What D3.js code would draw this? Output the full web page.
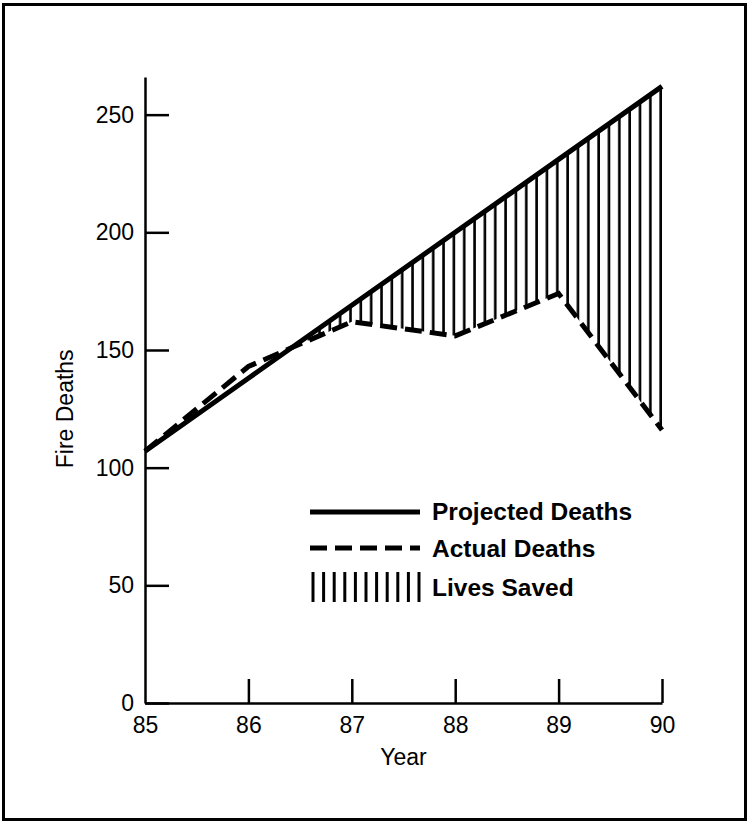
<!DOCTYPE html>
<html>
<head>
<meta charset="utf-8">
<script src="https://cdn.jsdelivr.net/npm/d3@7"></script>
<style>
  body { margin: 0; background: #fff; }
  svg { display: block; font-family: "Liberation Sans", Arial, Helvetica, sans-serif; }
</style>
</head>
<body>
<svg id="chart"></svg>
<script>
// values
var years = [85, 86, 87, 88, 89, 90]
var projected = [107, 138, 169, 200, 231, 262]
var actual = [107, 143, 162, 156, 174, 116]
var yTicks = [0, 50, 100, 150, 200, 250]
var legendItems = ["Projected Deaths", "Actual Deaths", "Lives Saved"]

var width = 749
var height = 824
var margin = ({top: 77, right: 87, bottom: 121, left: 145})

var data = years.map((yr, i) => ({year: yr, proj: projected[i], act: actual[i]}))

var x = d3.scaleLinear()
  .domain([85, 90])
  .range([margin.left, width - margin.right])
var y = d3.scaleLinear()
  .domain([0, 266])
  .range([height - margin.bottom, margin.top])

var svg = d3.select('#chart')
  .attr("width", width)
  .attr("height", height)

// outer frame
svg.append("rect")
  .attr("x", 3.5).attr("y", 4.5)
  .attr("width", width - 7).attr("height", height - 9)
  .attr("fill", "none")
  .attr("stroke", "#000")
  .attr("stroke-width", 3)

// hatch pattern: one vertical stroke every tenth of a year
var step = x(85.1) - x(85)
var defs = svg.append("defs")
var pat = defs.append("pattern")
  .attr("id", "hatch")
  .attr("patternUnits", "userSpaceOnUse")
  .attr("x", x(85)).attr("y", 0)
  .attr("width", step).attr("height", height)
pat.append("rect")
  .attr("x", step - 2.6).attr("y", 0)
  .attr("width", 2.6).attr("height", height)
  .attr("fill", "#000")

// clip to the part above the actual line
defs.append("clipPath").attr("id", "aboveActual")
  .append("path")
  .datum(data)
  .attr("d", d3.area()
    .x(d => x(d.year))
    .y0(d => y(d.act))
    .y1(0))

// area under projected line, clipped -> lives saved
svg.append("path")
  .datum(data)
  .attr("clip-path", "url(#aboveActual)")
  .attr("fill", "url(#hatch)")
  .attr("d", d3.area()
    .x(d => x(d.year))
    .y0(y(0))
    .y1(d => y(d.proj)))

// axes
var yAxis = g => g
  .attr("transform", `translate(${margin.left},0)`)
  .call(d3.axisLeft(y).tickValues(yTicks).tickSizeInner(-24).tickSizeOuter(0).tickPadding(11))

var xAxis = g => g
  .attr("transform", `translate(0,${height - margin.bottom})`)
  .call(d3.axisBottom(x).tickValues(years).tickFormat(d3.format("d"))
    .tickSizeInner(-24).tickSizeOuter(0).tickPadding(14))

var gy = svg.append("g").call(yAxis)
var gx = svg.append("g").call(xAxis)
svg.selectAll(".domain, .tick line")
  .attr("stroke", "#000")
  .attr("stroke-width", 2.5)
svg.selectAll(".tick text")
  .attr("fill", "#000")
  .attr("font-size", 23)
  .attr("font-family", null)
gx.selectAll(".tick").filter(d => d == 85).select("line").remove()

// lines
svg.append("path")
  .datum(data)
  .attr("fill", "none")
  .attr("stroke", "#000")
  .attr("stroke-width", 5)
  .attr("stroke-linejoin", "round")
  .attr("d", d3.line().x(d => x(d.year)).y(d => y(d.proj)))

svg.append("path")
  .datum(data)
  .attr("fill", "none")
  .attr("stroke", "#000")
  .attr("stroke-width", 5)
  .attr("stroke-dasharray", "17,8")
  .attr("d", d3.line().x(d => x(d.year)).y(d => y(d.act)))

// axis titles
svg.append("text")
  .attr("transform", `translate(73,${y(125)}) rotate(-90)`)
  .attr("text-anchor", "middle")
  .attr("font-size", 23)
  .text("Fire Deaths")

svg.append("text")
  .attr("x", x(87.5)).attr("y", 765)
  .attr("text-anchor", "middle")
  .attr("font-size", 23)
  .text("Year")

// legend
var lx0 = 310, lx1 = 420, tx = 432
var lg = svg.append("g")
lg.append("line")
  .attr("x1", lx0).attr("x2", lx1)
  .attr("y1", 512).attr("y2", 512)
  .attr("stroke", "#000").attr("stroke-width", 5)
lg.append("line")
  .attr("x1", lx0).attr("x2", lx1)
  .attr("y1", 548).attr("y2", 548)
  .attr("stroke", "#000").attr("stroke-width", 5)
  .attr("stroke-dasharray", "17,8")
lg.selectAll(".bar")
  .data(d3.range(11))
  .join("line")
  .attr("x1", i => lx0 + 3 + i * 10.6).attr("x2", i => lx0 + 3 + i * 10.6)
  .attr("y1", 572).attr("y2", 602)
  .attr("stroke", "#000").attr("stroke-width", 3)
lg.selectAll(".lab")
  .data(legendItems)
  .join("text")
  .attr("x", tx)
  .attr("y", (d, i) => [520, 557, 596][i])
  .attr("font-size", 24.5)
  .attr("font-weight", "bold")
  .text(d => d)
</script>
</body>
</html>
